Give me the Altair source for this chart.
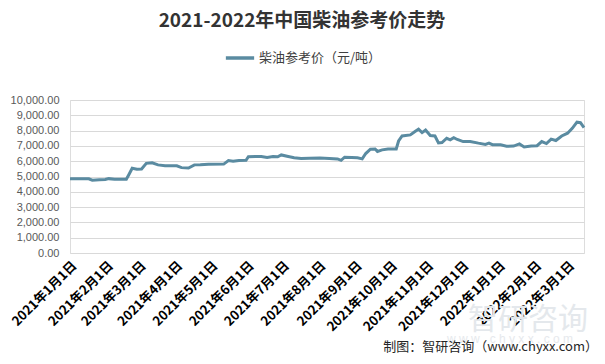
import altair as alt
import pandas as pd

dates = ["2021-01-01","2021-01-17","2021-01-20","2021-01-26","2021-01-31","2021-02-03","2021-02-08","2021-02-18",
         "2021-02-20","2021-02-23","2021-02-27","2021-03-03","2021-03-07","2021-03-12","2021-03-17","2021-03-23",
         "2021-04-02","2021-04-06","2021-04-12","2021-04-17","2021-04-22","2021-04-29","2021-05-12","2021-05-16",
         "2021-05-20","2021-05-25","2021-05-31","2021-06-02","2021-06-08","2021-06-13","2021-06-18","2021-06-23",
         "2021-06-27","2021-06-30","2021-07-05","2021-07-11","2021-07-17","2021-07-24","2021-08-02","2021-08-10",
         "2021-08-17","2021-08-20","2021-08-23","2021-08-29","2021-09-03","2021-09-07","2021-09-10","2021-09-14",
         "2021-09-18","2021-09-20","2021-09-24","2021-09-29","2021-10-06","2021-10-08","2021-10-11","2021-10-18",
         "2021-10-22","2021-10-25","2021-10-28","2021-10-31","2021-11-04","2021-11-08","2021-11-11","2021-11-14",
         "2021-11-18","2021-11-21","2021-11-24","2021-11-27","2021-12-02","2021-12-08","2021-12-15","2021-12-21",
         "2021-12-24","2021-12-27","2022-01-03","2022-01-08","2022-01-14","2022-01-19","2022-01-23","2022-01-29",
         "2022-02-03","2022-02-07","2022-02-11","2022-02-15","2022-02-19","2022-02-24","2022-03-01","2022-03-05",
         "2022-03-09","2022-03-12","2022-03-15"]
prices = [4850, 4850, 4760, 4780, 4800, 4860, 4820, 4820,
          5100, 5540, 5480, 5490, 5860, 5900, 5760, 5710,
          5700, 5580, 5550, 5760, 5770, 5800, 5810, 6040,
          5990, 6050, 6060, 6290, 6300, 6310, 6240, 6300,
          6290, 6410, 6320, 6220, 6170, 6200, 6210, 6180,
          6150, 6060, 6260, 6240, 6220, 6150, 6500, 6780,
          6800, 6640, 6740, 6790, 6800, 7320, 7650, 7720,
          7940, 8090, 7870, 8040, 7680, 7650, 7200, 7220,
          7500, 7400, 7540, 7420, 7280, 7290, 7180, 7100,
          7180, 7080, 7070, 6980, 6990, 7130, 6930, 7000,
          7010, 7280, 7150, 7440, 7350, 7650, 7830, 8150,
          8550, 8520, 8200]
series_name = "柴油参考价（元/吨）"
y_ticks = [0, 1000, 2000, 3000, 4000, 5000, 6000, 7000, 8000, 9000, 10000]
x_domain = ["2021-01-01", "2022-03-15"]

title_text = "2021-2022年中国柴油参考价走势"
source_text = "制图：智研咨询（www.chyxx.com）"
wm_text = "智研咨询"
wm_url = "w w w . c h y x x . c o m"

df = pd.DataFrame({"date": dates, "price": prices, "series": [series_name] * len(dates)})

line = alt.Chart(df).mark_line(strokeWidth=3).encode(
    x=alt.X("date:T",
            scale=alt.Scale(domain=x_domain, nice=False),
            axis=alt.Axis(title=None, format="%Y年%-m月%-d日", labelAngle=-45,
                          tickCount=alt.TimeIntervalStep(interval="month", step=1),
                          labelFont="Noto Sans CJK SC", labelFontWeight="bold",
                          labelFontSize=13, labelColor="#000000", grid=False,
                          domain=False, ticks=False, labelPadding=6, labelOffset=0,
                          labelOverlap=False, labelBound=False, labelFlush=False)),
    y=alt.Y("price:Q",
            scale=alt.Scale(domain=[0, 10000], nice=False),
            axis=alt.Axis(title=None, values=y_ticks, format=",.2f",
                          labelFont="Liberation Sans", labelFontSize=11,
                          labelColor="#595959", domain=False, ticks=False,
                          labelPadding=11, gridColor="#d9d9d9", gridWidth=1)),
    color=alt.Color("series:N",
                    scale=alt.Scale(range=["#5a8ba1"]),
                    legend=alt.Legend(title=None, orient="none", legendX=154, legendY=-58,
                                      symbolType="stroke", symbolSize=800,
                                      symbolStrokeWidth=3.5, labelFontSize=13,
                                      labelFont="Noto Sans CJK SC", labelColor="#404040",
                                      labelOffset=3)),
)

wm_df = pd.DataFrame({"t": [wm_text]})
wm = alt.Chart(wm_df).mark_text(fontSize=30, font="Noto Sans CJK SC", color="#e4e8ec",
                                align="center", baseline="middle").encode(
    x=alt.value(458), y=alt.value(220), text="t:N")
wm_url_df = pd.DataFrame({"t": [wm_url]})
wm2 = alt.Chart(wm_url_df).mark_text(fontSize=12, font="Liberation Sans", color="#e6e9ed",
                                     align="center", baseline="middle").encode(
    x=alt.value(440), y=alt.value(239), text="t:N")

src_df = pd.DataFrame({"t": [source_text]})
src = alt.Chart(src_df).mark_text(fontSize=13, font="Noto Sans CJK SC", color="#262626",
                                  align="right", baseline="alphabetic").encode(
    x=alt.value(528), y=alt.value(251), text="t:N")

chart = alt.layer(wm, wm2, line, src).properties(
    width=514, height=153,
    padding={"left": 62, "top": 92, "right": 13, "bottom": 103},
    autosize=alt.AutoSizeParams(type="none"),
    title=alt.TitleParams(title_text, anchor="middle", fontSize=19, font="Noto Sans CJK SC",
                          fontWeight="bold", color="#333333", offset=11, dx=-25),
).configure_view(stroke=None).configure(background="#ffffff")

chart.save("out.html", embed_options={"renderer": "svg", "actions": False})
